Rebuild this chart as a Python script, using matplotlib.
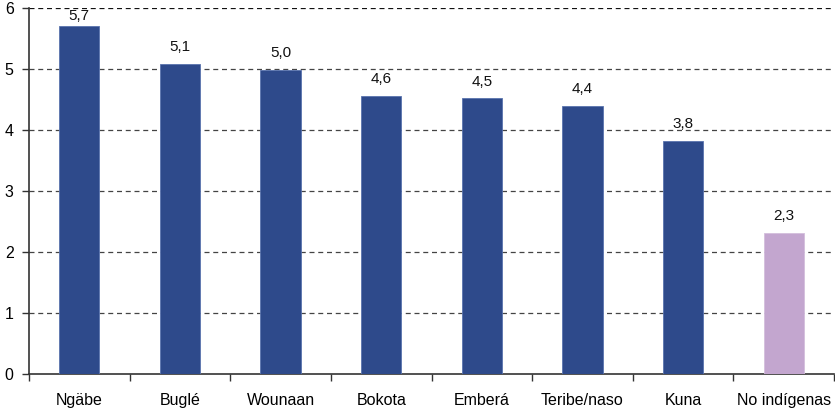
import matplotlib.pyplot as plt
import numpy as np

plt.rcParams['font.family'] = ['Liberation Sans', 'DejaVu Sans']

categories = ["Ngäbe", "Buglé", "Wounaan", "Bokota", "Emberá", "Teribe/naso", "Kuna", "No indígenas"]
values = [5.70, 5.08, 4.98, 4.56, 4.52, 4.39, 3.82, 2.31]
bar_colors = ["#2E4A8B"] * 7 + ["#C3A6CF"]

fig = plt.figure(figsize=(8.35, 4.11), dpi=100)
ax = fig.add_axes([29 / 835, 37 / 411, 805 / 835, 366 / 411])

x = np.arange(len(categories))
bars = ax.bar(x, values, width=0.4, color=bar_colors, edgecolor="#5A73AE", linewidth=0.6, zorder=3)
bars[-1].set_edgecolor("#D3BEDC")

# labels sit above the bars, but are kept inside the plot area (as Excel does)
for xi, v in zip(x, values):
    ax.text(xi, min(v + 0.16, 5.76), f"{v:.1f}".replace(".", ","), ha="center", va="bottom",
            fontsize=11, color="#111111")

ax.set_xlim(-0.5, len(categories) - 0.5)
ax.set_ylim(0, 6)
ax.set_yticks(range(0, 7))
ax.tick_params(axis="y", labelsize=11.5, length=5, width=1, direction="out", color="#333333", pad=6)

ax.set_xticks(x)
ax.set_xticklabels(categories, fontsize=11.5)
ax.tick_params(axis="x", which="major", length=0, pad=14)
ax.set_xticks(np.arange(-0.5, len(categories)), minor=True)
ax.tick_params(axis="x", which="minor", length=5, width=1, direction="out", color="#333333")

for yv in range(1, 7):
    ax.axhline(yv, color="#444444" if yv < 6 else "#111111", linestyle=(0, (4, 3)), linewidth=0.9, zorder=1)

for s in ["top", "right"]:
    ax.spines[s].set_visible(False)
for s in ["left", "bottom"]:
    ax.spines[s].set_color("#333333")
    ax.spines[s].set_linewidth(1.2)

fig.savefig("out.png", dpi=100)
